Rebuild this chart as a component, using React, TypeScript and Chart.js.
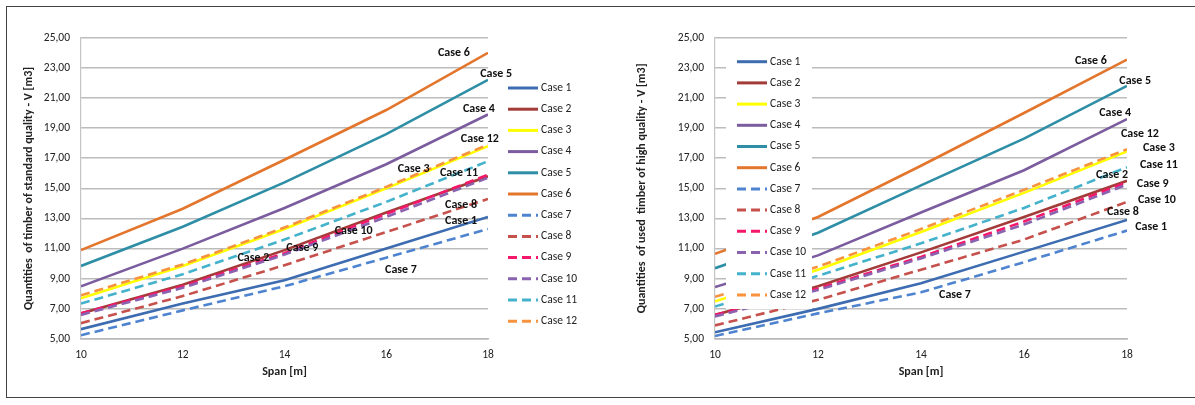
import React, { useEffect, useRef } from 'react';
import { Chart, registerables } from 'chart.js';

Chart.register(...registerables);

// ---------- data ----------
const spans = [10, 12, 14, 16, 18];
const caseNames = ['Case 1', 'Case 2', 'Case 3', 'Case 4', 'Case 5', 'Case 6', 'Case 7', 'Case 8', 'Case 9', 'Case 10', 'Case 11', 'Case 12'];
const yTicks = [5, 7, 9, 11, 13, 15, 17, 19, 21, 23, 25];

// standard quality timber (left chart)
const stdCase1 = [5.65, 7.35, 8.9, 11.0, 13.1];
const stdCase2 = [6.7, 8.6, 10.9, 13.4, 15.8];
const stdCase3 = [7.7, 9.85, 12.3, 15.0, 17.8];
const stdCase4 = [8.5, 11.0, 13.7, 16.6, 19.9];
const stdCase5 = [9.85, 12.45, 15.4, 18.6, 22.2];
const stdCase6 = [10.9, 13.65, 16.9, 20.2, 24.0];
const stdCase7 = [5.25, 6.9, 8.5, 10.4, 12.3];
const stdCase8 = [6.05, 7.85, 9.9, 12.1, 14.3];
const stdCase9 = [6.7, 8.5, 10.7, 13.3, 15.9];
const stdCase10 = [6.6, 8.4, 10.6, 13.1, 15.7];
const stdCase11 = [7.35, 9.3, 11.6, 14.1, 16.8];
const stdCase12 = [7.9, 9.95, 12.4, 15.1, 17.9];

// high quality timber (right chart)
const highCase1 = [5.45, 7.0, 8.7, 10.8, 12.9];
const highCase2 = [6.6, 8.5, 10.75, 13.1, 15.5];
const highCase3 = [7.5, 9.6, 12.1, 14.7, 17.45];
const highCase4 = [8.45, 10.55, 13.4, 16.2, 19.6];
const highCase5 = [9.7, 12.05, 15.2, 18.3, 21.8];
const highCase6 = [10.65, 13.1, 16.5, 20.0, 23.55];
const highCase7 = [5.2, 6.7, 8.1, 10.1, 12.2];
const highCase8 = [5.9, 7.6, 9.6, 11.6, 14.1];
const highCase9 = [6.6, 8.35, 10.45, 12.8, 15.4];
const highCase10 = [6.5, 8.25, 10.35, 12.6, 15.25];
const highCase11 = [7.15, 9.2, 11.35, 13.7, 16.4];
const highCase12 = [7.8, 9.8, 12.3, 14.9, 17.6];

const stdSeries = [stdCase1, stdCase2, stdCase3, stdCase4, stdCase5, stdCase6, stdCase7, stdCase8, stdCase9, stdCase10, stdCase11, stdCase12];
const highSeries = [highCase1, highCase2, highCase3, highCase4, highCase5, highCase6, highCase7, highCase8, highCase9, highCase10, highCase11, highCase12];

// ---------- styles ----------
const caseColors = ['#3D6CB0', '#A33B38', '#FFFF00', '#7B5C9E', '#2E8EA5', '#E3762C', '#4E84CF', '#C6504B', '#F5186A', '#8A63B0', '#44B2CB', '#F7923F'];
const FONT = "Carlito, 'Liberation Sans Narrow', Roboto, sans-serif";

// annotation label anchors in data units [span, volume]
const stdLabelPos: [number, number][] = [
  [17.47, 12.8], [13.39, 10.36], [16.54, 16.26], [17.82, 20.3], [18.16, 22.6], [17.33, 24.0],
  [16.29, 9.57], [17.47, 13.87], [14.35, 11.03], [15.36, 12.15], [17.43, 16.0], [17.84, 18.25],
];
const highLabelPos: [number, number][] = [
  [18.47, 12.42], [17.71, 15.86], [18.62, 17.7], [17.77, 19.97], [18.16, 22.15], [17.3, 23.48],
  [14.66, 7.91], [17.92, 13.4], [18.5, 15.26], [18.58, 14.2], [18.62, 16.52], [18.25, 18.64],
];

const fmt = (v: number) => v.toFixed(2).replace('.', ',');

const caseLabelsPlugin = {
  id: 'caseLabels',
  afterDatasetsDraw(chart: any, _a: any, opts: any) {
    const { ctx, scales } = chart;
    ctx.save();
    ctx.font = `bold 12px ${FONT}`;
    ctx.fillStyle = '#111';
    ctx.textAlign = 'center';
    ctx.textBaseline = 'middle';
    (opts.positions as [number, number][]).forEach((p, i) => {
      ctx.fillText(caseNames[i], scales.x.getPixelForValue(p[0]), scales.y.getPixelForValue(p[1]));
    });
    ctx.restore();
  },
};

const customLegendPlugin = {
  id: 'customLegend',
  afterDatasetsDraw(chart: any, _a: any, opts: any) {
    const { ctx } = chart;
    ctx.save();
    if (opts.box) {
      ctx.fillStyle = '#fff';
      ctx.fillRect(opts.box[0], opts.box[1], opts.box[2], opts.box[3]);
    }
    chart.data.datasets.forEach((ds: any, i: number) => {
      const y = opts.y + i * opts.spacing;
      ctx.beginPath();
      ctx.strokeStyle = ds.borderColor;
      ctx.lineWidth = 3;
      ctx.setLineDash(ds.borderDash || []);
      ctx.moveTo(opts.x, y);
      ctx.lineTo(opts.x + opts.len, y);
      ctx.stroke();
      ctx.setLineDash([]);
      ctx.fillStyle = '#222';
      ctx.font = `11.5px ${FONT}`;
      ctx.textAlign = 'left';
      ctx.textBaseline = 'middle';
      ctx.fillText(ds.label, opts.x + opts.len + 3, y);
    });
    ctx.restore();
  },
};

type Cfg = {
  series: number[][];
  yTitle: string;
  yWidth: number;
  yTitlePad: number;
  right: number;
  legend: any;
  labels: [number, number][];
};

function buildConfig(cfg: Cfg): any {
  const datasets = cfg.series.map((vals, i) => ({
    label: caseNames[i],
    data: spans.map((s, j) => ({ x: s, y: vals[j] })),
    borderColor: caseColors[i],
    backgroundColor: caseColors[i],
    borderWidth: 2.6,
    borderDash: i >= 6 ? [9, 5] : [],
    pointRadius: 0,
    tension: 0,
    fill: false,
    order: 11 - i,
  }));
  return {
    type: 'line',
    data: { datasets },
    options: {
      animation: false,
      responsive: true,
      maintainAspectRatio: false,
      layout: { padding: { left: 0, top: 27.7, right: cfg.right, bottom: 0 } },
      plugins: {
        legend: { display: false },
        tooltip: { enabled: false },
        caseLabels: { positions: cfg.labels },
        customLegend: cfg.legend,
      },
      scales: {
        x: {
          type: 'linear',
          min: 10,
          max: 18,
          afterFit: (s: any) => { s.height = 56; },
          ticks: { stepSize: 2, color: '#222', padding: 9, font: { family: FONT, size: 11.5 } },
          grid: { display: false, drawTicks: false },
          border: { display: true, color: '#b8b8b8', width: 1.5 },
          title: { display: true, text: 'Span [m]', color: '#222', font: { family: FONT, size: 12, weight: 'bold' }, padding: { top: 0, bottom: 16 } },
        },
        y: {
          type: 'linear',
          min: 5,
          max: 25,
          afterFit: (s: any) => { s.width = cfg.yWidth; },
          afterBuildTicks: (s: any) => { s.ticks = yTicks.map((v) => ({ value: v })); },
          ticks: { color: '#222', padding: 11, font: { family: FONT, size: 11.5 }, callback: (v: any) => fmt(Number(v)) },
          grid: { color: '#bcbcbc', lineWidth: 1.5, drawTicks: false },
          border: { display: true, color: '#c4c4c4', width: 1.2 },
          title: { display: true, text: cfg.yTitle, color: '#222', font: { family: FONT, size: 12, weight: 'bold' }, padding: { top: cfg.yTitlePad, bottom: 0 } },
        },
      },
    },
    plugins: [caseLabelsPlugin, customLegendPlugin],
  };
}

function VolumeChart({ cfg, box }: { cfg: Cfg; box: React.CSSProperties }) {
  const ref = useRef<HTMLCanvasElement>(null);
  useEffect(() => {
    const chart = new Chart(ref.current as HTMLCanvasElement, buildConfig(cfg));
    return () => chart.destroy();
  }, []);
  return (
    <div style={{ position: 'absolute', ...box }}>
      <canvas ref={ref} />
    </div>
  );
}

const leftCfg: Cfg = {
  series: stdSeries,
  yTitle: 'Quantities  of timber of standard quality - V [m3]',
  yWidth: 71,
  yTitlePad: 12,
  right: 112,
  legend: { x: 498, y: 78, spacing: 21.2, len: 30 },
  labels: stdLabelPos,
};

const rightCfg: Cfg = {
  series: highSeries,
  yTitle: 'Quantities  of used  timber of high quality - V [m3]',
  yWidth: 115,
  yTitlePad: 35,
  right: 68,
  legend: { x: 137, y: 51.7, spacing: 21.2, len: 30, box: [126, 38, 86, 261] },
  labels: highLabelPos,
};

export default function App() {
  return (
    <div style={{ position: 'absolute', left: 0, top: 0, width: 1195, height: 405, background: '#fff', overflow: 'hidden' }}>
      <div style={{ position: 'absolute', left: 6, top: 6, width: 1189, height: 390, borderTop: '1.5px solid #444', borderLeft: '1.5px solid #444', borderBottom: '1.5px solid #444' }} />
      <VolumeChart cfg={leftCfg} box={{ left: 10, top: 10, width: 590, height: 385 }} />
      <VolumeChart cfg={rightCfg} box={{ left: 600, top: 10, width: 595, height: 385 }} />
    </div>
  );
}
